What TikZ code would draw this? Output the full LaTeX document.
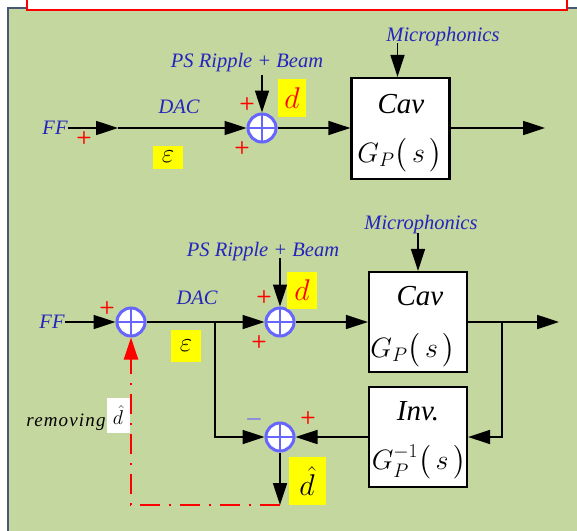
\documentclass[tikz,border=0pt]{standalone}
\usepackage{fix-cm}
\usepackage{fontspec}
\setmainfont{Liberation Serif}
\usepackage{amsmath, amssymb}
\usepackage{xcolor}
\usepackage{tikz}
\usetikzlibrary{arrows.meta, calc}
\definecolor{figBg}{RGB}{196,215,158}
\definecolor{figEdge}{RGB}{70,88,118}
\definecolor{figSum}{RGB}{102,102,255}
\definecolor{figTxt}{RGB}{36,36,190}
\definecolor{figR}{RGB}{255,0,0}
\definecolor{figY}{RGB}{255,255,0}
\tikzset{
  sig/.style={line width=1.7pt, -{Triangle[length=22pt,width=14pt]}},
  fbk/.style={figR, line width=2.4pt, dash pattern=on 20pt off 9pt on 2pt off 9pt,
    -{Triangle[length=22pt,width=14pt]}},
  sumj/.style={circle, draw=figSum, line width=3pt, fill=white, minimum size=28pt, inner sep=0pt,
    path picture={\draw[figSum, line width=2.2pt]
      (path picture bounding box.north) -- (path picture bounding box.south)
      (path picture bounding box.west) -- (path picture bounding box.east);}},
  blk/.style={draw, line width=2.2pt, fill=white, minimum width=98pt, minimum height=100pt, inner sep=0pt},
  lbl/.style={text=figTxt, font=\itshape\fontsize{20.5}{21}\selectfont, inner sep=0pt},
  pls/.style={text=figR, font=\sffamily\bfseries\fontsize{18}{18}\selectfont, inner sep=0pt},
  hl/.style={fill=figY, inner sep=0pt},
  bigtxt/.style={font=\itshape\fontsize{29}{29}\selectfont, inner sep=0pt},
  tfun/.style={font=\fontsize{28}{27}\selectfont, inner sep=0pt}
}
\begin{document}
\begin{tikzpicture}[x=1pt, y=-1pt]
\clip (0,0) rectangle (577,530);
% panel and title strip
\fill[figBg] (8,8) rectangle (600,560);
\draw[figEdge, line width=1.5pt] (8,560) -- (8,8) -- (600,8);
\draw[figR, line width=1.5pt, fill=white] (27,-5) rectangle (567,10);
% ---- upper loop (feedforward only) ----
\node[lbl] (ff1) at (55,128) {FF};
\coordinate (a1) at (118,128);
\node[sumj] (s1) at (262,128) {};
\node[blk, minimum height=101pt] (cav1) at (400.5,128.5) {};
\node[bigtxt] (cavt1) at (401,104) {Cav};
\node[tfun] (gp1) at (400,155) {$G_P\bigl(\,s\,\bigr)$};
\node[lbl] (dac1) at (179,107) {DAC};
\node[hl, minimum width=30pt, minimum height=23pt] (eps1) at (168,157)
  {\fontsize{27}{27}\selectfont$\varepsilon$};
\node[lbl] (ps1) at (247,63) {PS Ripple + Beam};
\coordinate (psin1) at (262,75);
\node[hl, minimum width=28pt, minimum height=38pt] (d1) at (292,98)
  {\fontsize{30}{30}\selectfont\color{figR}$d$};
\node[lbl] (mic1) at (443,37) {Microphonics};
\coordinate (micin1) at (397.5,43);
\coordinate (out1) at (545,128);
\draw[sig] (ff1.east) -- (a1);
\draw[sig] (a1) -- (s1.west);
\draw[sig] (psin1) -- (s1.north);
\draw[sig] (s1.east) -- (cav1.west |- s1);
\draw[sig] (micin1) -- (micin1 |- cav1.north);
\draw[sig] (cav1.east |- out1) -- (out1);
% ---- lower loop (with disturbance observer) ----
\node[lbl] (ff2) at (52,322) {FF};
\node[sumj] (s2) at (131,322) {};
\coordinate (br1) at (215,322);
\node[sumj] (s3) at (280,322) {};
\node[blk] (cav2) at (418,322) {};
\node[bigtxt] (cavt2) at (420,296) {Cav};
\node[tfun] (gp2) at (413,350) {$G_P\bigl(\,s\,\bigr)$};
\node[blk] (inv) at (418,437) {};
\node[bigtxt] (invt) at (418,411) {Inv.};
\node[tfun] (gpi) at (419,462) {$G_P^{-1}\bigl(\,s\,\bigr)$};
\node[sumj] (s4) at (280,437) {};
\node[lbl] (dac2) at (197,298) {DAC};
\node[hl, minimum width=30pt, minimum height=32pt] (eps2) at (186,346)
  {\fontsize{27}{27}\selectfont$\varepsilon$};
\node[lbl] (ps2) at (263,252) {PS Ripple + Beam};
\coordinate (psin2) at (280,258);
\node[hl, minimum width=30pt, minimum height=37pt] (d2) at (302,290)
  {\fontsize{30}{30}\selectfont\color{figR}$d$};
\node[lbl] (mic2) at (421,225) {Microphonics};
\coordinate (micin2) at (418,233);
\coordinate (br2) at (502,322);
\coordinate (out2) at (559,322);
\coordinate (dhout) at (280,505);
\node[hl, minimum width=37pt, minimum height=48pt] (dh) at (307,481)
  {\fontsize{30}{30}\selectfont$\hat{d}$};
\node[font=\itshape\fontsize{19}{19}\selectfont\addfontfeature{LetterSpace=6}, inner sep=0pt]
  (rmv) at (66,422) {removing};
\node[fill=white, inner sep=0pt, minimum width=23pt, minimum height=35pt] (rmvd) at (118,415)
  {\fontsize{20}{20}\selectfont$\hat{d}$};
\draw[sig] (ff2.east) -- (s2.west);
\draw[line width=1.7pt] (s2.east) -- (br1);
\draw[sig] (br1) -- (s3.west);
\draw[sig] (psin2) -- (s3.north);
\draw[sig] (s3.east) -- (cav2.west);
\draw[sig] (micin2) -- (micin2 |- cav2.north);
\draw[line width=1.7pt] (cav2.east) -- (br2);
\draw[sig] (br2) -- (out2);
\draw[sig] (br2) |- (inv.east);
\draw[sig] (inv.west) -- (s4.east);
\draw[sig] (br1) |- (s4.west);
\draw[sig] (s4.south) -- (dhout);
% estimated disturbance fed back to the input
\draw[fbk] (dhout) -| (s2.south);
% signs at the junctions
\foreach \px/\py [count=\i] in {84/138, 247/104, 242/148, 107/308, 264/297, 259/342, 308/418}
  \node[pls] (p\i) at (\px,\py) {+};
\node[text=figSum, font=\bfseries\fontsize{20}{20}\selectfont, inner sep=0pt] (m1) at (254,419) {$\boldsymbol{-}$};
\end{tikzpicture}
\end{document}
